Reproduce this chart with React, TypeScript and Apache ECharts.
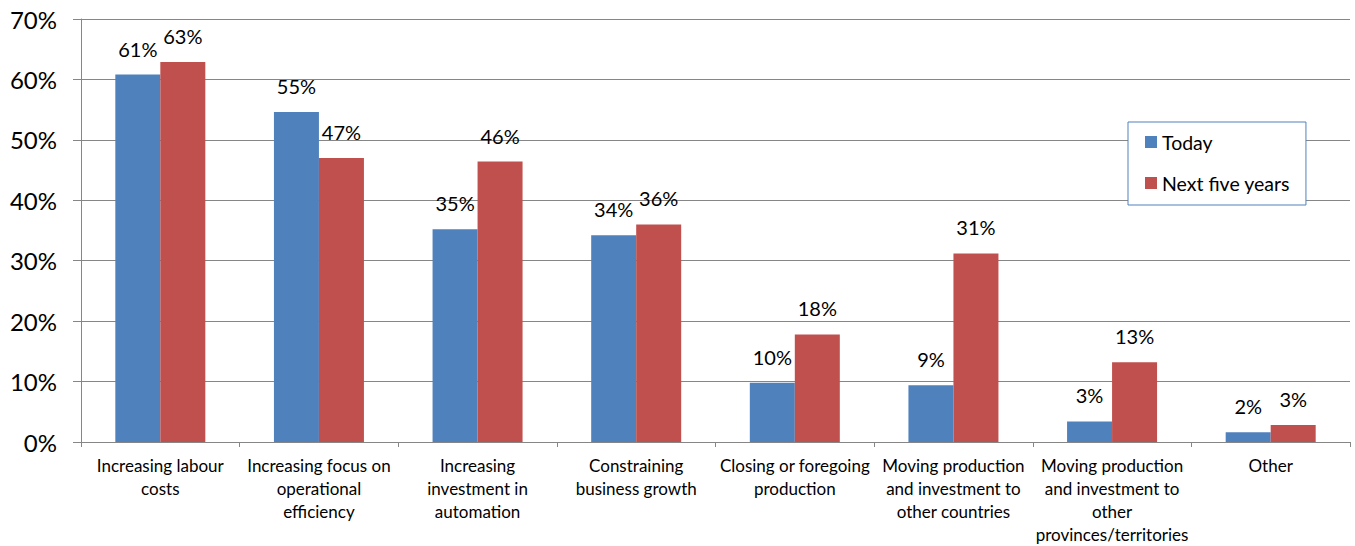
import React, { useEffect, useRef } from "react";
import * as echarts from "echarts";

const categories = [
  "Increasing labour\ncosts",
  "Increasing focus on\noperational\nefficiency",
  "Increasing\ninvestment in\nautomation",
  "Constraining\nbusiness growth",
  "Closing or foregoing\nproduction",
  "Moving production\nand investment to\nother countries",
  "Moving production\nand investment to\nother\nprovinces/territories",
  "Other",
];
const today = [60.8, 54.6, 35.2, 34.2, 9.8, 9.4, 3.4, 1.6];
const nextFiveYears = [62.9, 47.0, 46.4, 36.0, 17.8, 31.2, 13.2, 2.8];
const seriesNames = ["Today", "Next five years"];
const yTicks = { min: 0, max: 70, interval: 10 };

const FONT = "Lato";

export default function App() {
  const ref = useRef<HTMLDivElement>(null);
  useEffect(() => {
    if (!ref.current) return;
    const chart = echarts.init(ref.current, null, { renderer: "svg" });
    const labelCfg = {
      show: true,
      position: "top" as const,
      distance: 16,
      fontFamily: FONT,
      fontSize: 20,
      color: "#000",
      formatter: (p: any) => Math.round(p.value) + "%",
    };
    chart.setOption({
      animation: false,
      backgroundColor: "#fff",
      grid: { left: 81, right: 5, top: 19, bottom: 103, containLabel: false },
      legend: {
        orient: "vertical",
        left: 1128,
        top: 122,
        padding: [10, 16, 12, 17],
        itemGap: 21,
        itemWidth: 12,
        itemHeight: 12,
        icon: "rect",
        borderColor: "#4f81bd",
        borderWidth: 1,
        backgroundColor: "#fff",
        textStyle: { fontFamily: FONT, fontSize: 19.5, color: "#000", lineHeight: 20 },
        data: seriesNames,
      },
      xAxis: {
        type: "category",
        data: categories,
        boundaryGap: true,
        axisLine: { lineStyle: { color: "#868686", width: 1 } },
        axisTick: { show: true, length: 5, lineStyle: { color: "#868686" } },
        axisLabel: {
          interval: 0,
          margin: 12,
          fontFamily: FONT,
          fontSize: 17,
          lineHeight: 23,
          color: "#000",
        },
      },
      yAxis: {
        type: "value",
        min: yTicks.min,
        max: yTicks.max,
        interval: yTicks.interval,
        axisLine: { show: true, lineStyle: { color: "#868686", width: 1 } },
        axisTick: { show: true, length: 8, lineStyle: { color: "#868686" } },
        splitLine: { show: true, lineStyle: { color: "#868686", width: 1 } },
        axisLabel: {
          formatter: "{value}%",
          fontFamily: FONT,
          fontSize: 24,
          color: "#000",
          margin: 24,
        },
      },
      series: [
        {
          name: seriesNames[0],
          type: "bar",
          data: today,
          barWidth: 45,
          barGap: "0%",
          itemStyle: { color: "#4f81bd" },
          label: labelCfg,
        },
        {
          name: seriesNames[1],
          type: "bar",
          data: nextFiveYears,
          barWidth: 45,
          barGap: "0%",
          itemStyle: { color: "#c0504d" },
          label: labelCfg,
        },
      ],
    });
    return () => chart.dispose();
  }, []);
  return (
    <div
      ref={ref}
      style={{ position: "fixed", left: 0, top: 0, width: 1355, height: 546 }}
    />
  );
}
